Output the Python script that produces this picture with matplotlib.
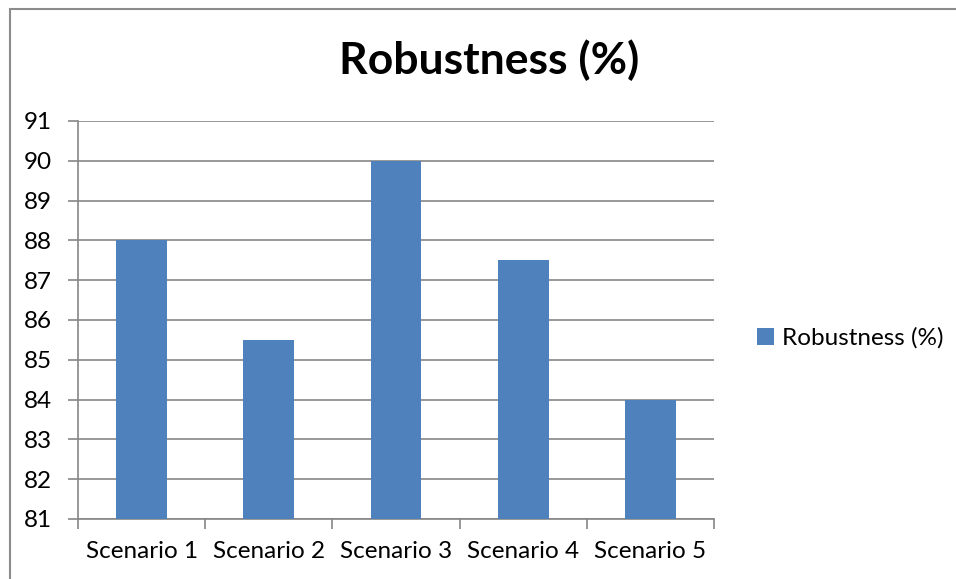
import matplotlib
matplotlib.use('Agg')
import matplotlib.pyplot as plt
from matplotlib.patches import Rectangle

# ── Datos ─────────────────────────────────────────────
escenarios = ['Scenario 1', 'Scenario 2', 'Scenario 3', 'Scenario 4', 'Scenario 5']
robustez = [88, 85.5, 90, 87.5, 84]
serie = 'Robustness (%)'

_AZUL = '#4F81BD'
_GRIS = '#868686'

plt.rcParams['font.family'] = ['Lato', 'DejaVu Sans']

W, H = 956, 579
fig = plt.figure(figsize=(W / 100, H / 100), dpi=100)

# marco del gráfico (solo se ven arriba e izquierda)
fig.add_artist(Rectangle((9.5 / W, -0.1), 1.2, (H - 8.5) / H + 0.1,
                         transform=fig.transFigure, fill=False,
                         edgecolor='#8c8c8c', lw=1.5))

ax = fig.add_axes([78 / W, 1 - 519 / H, (714 - 78) / W, (519 - 121) / H])

x = range(len(escenarios))
ax.bar(x, [v - 81 for v in robustez], bottom=81, width=0.4,
       color=_AZUL, zorder=3, label=serie)

ax.set_xlim(-0.5, len(escenarios) - 0.5)
ax.set_ylim(81, 91)
ax.set_yticks(range(81, 92))
ax.grid(axis='y', color=_GRIS, lw=1.2, zorder=0)

ax.set_xticks([i - 0.5 for i in range(len(escenarios) + 1)], minor=False)
ax.set_xticklabels([])
ax.set_xticks(list(x), minor=True)
ax.set_xticklabels(escenarios, minor=True, fontsize=17.5)
ax.tick_params(axis='x', which='major', length=7, color=_GRIS, width=1.2)
ax.tick_params(axis='x', which='minor', length=0, pad=16)
ax.tick_params(axis='y', length=7, color=_GRIS, width=1.2, labelsize=17.5, pad=12)

for s in ['top', 'right']:
    ax.spines[s].set_visible(False)
for s in ['left', 'bottom']:
    ax.spines[s].set_color(_GRIS)
    ax.spines[s].set_linewidth(1.2)

fig.text(489 / W, 1 - 60 / H, serie, ha='center', va='center',
         fontsize=32, fontweight='bold')

fig.legend(loc='center left', bbox_to_anchor=(735 / W, 1 - 338 / H),
           frameon=False, fontsize=17.5, handlelength=0.7, handleheight=0.7,
           handletextpad=0.35)

fig.savefig('out.png', dpi=100, facecolor='white')
